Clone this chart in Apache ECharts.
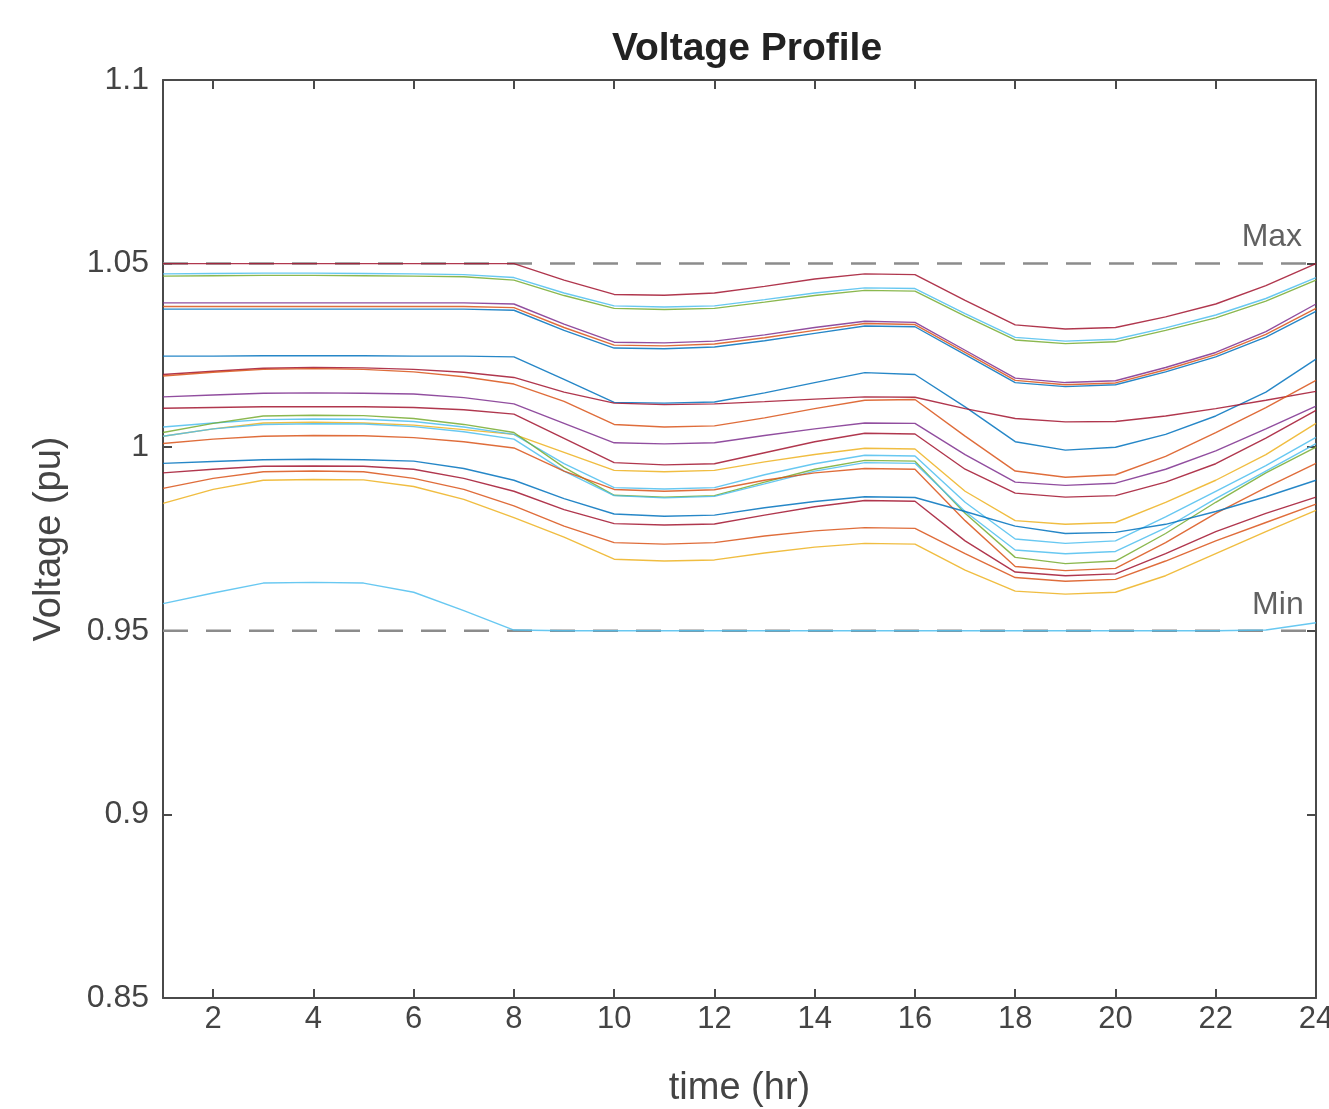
<!DOCTYPE html>
<html><head><meta charset="utf-8">
<script src="https://cdn.jsdelivr.net/npm/echarts@6/dist/echarts.min.js"></script>
<style>html,body{margin:0;padding:0;background:#fff}#c{width:1329px;height:1109px}</style>
</head><body><div id="c"></div>
<script>
// ---- data ----
const hours = [1,2,3,4,5,6,7,8,9,10,11,12,13,14,15,16,17,18,19,20,21,22,23,24];
const xTickValues = [2,4,6,8,10,12,14,16,18,20,22,24];
const limitNames = ['Max','Min'];
const limitValues = [1.05, 0.95];

const bus01 = [1.0500,1.0500,1.0500,1.0500,1.0500,1.0500,1.0500,1.0500,1.0455,1.0416,1.0414,1.0420,1.0438,1.0458,1.0472,1.0470,1.0400,1.0333,1.0322,1.0326,1.0355,1.0390,1.0440,1.0500];
const bus02 = [1.0466,1.0467,1.0468,1.0468,1.0467,1.0466,1.0464,1.0455,1.0413,1.0378,1.0375,1.0378,1.0395,1.0413,1.0427,1.0425,1.0357,1.0292,1.0282,1.0287,1.0318,1.0352,1.0398,1.0455];
const bus03 = [1.0472,1.0473,1.0474,1.0474,1.0473,1.0472,1.0470,1.0462,1.0420,1.0385,1.0382,1.0385,1.0402,1.0420,1.0434,1.0432,1.0364,1.0299,1.0289,1.0294,1.0325,1.0360,1.0405,1.0462];
const bus04 = [1.0393,1.0393,1.0393,1.0393,1.0393,1.0393,1.0393,1.0390,1.0335,1.0286,1.0284,1.0289,1.0306,1.0326,1.0343,1.0340,1.0264,1.0188,1.0176,1.0181,1.0217,1.0258,1.0315,1.0390];
const bus05 = [1.0376,1.0376,1.0376,1.0376,1.0376,1.0376,1.0376,1.0373,1.0318,1.0270,1.0268,1.0273,1.0290,1.0310,1.0330,1.0328,1.0252,1.0176,1.0165,1.0170,1.0205,1.0246,1.0300,1.0370];
const bus06 = [1.0383,1.0383,1.0383,1.0383,1.0383,1.0383,1.0383,1.0380,1.0326,1.0278,1.0276,1.0281,1.0298,1.0318,1.0337,1.0334,1.0258,1.0182,1.0170,1.0175,1.0211,1.0252,1.0307,1.0378];
const bus07 = [1.0248,1.0248,1.0249,1.0249,1.0249,1.0248,1.0248,1.0246,1.0185,1.0122,1.0120,1.0123,1.0148,1.0176,1.0203,1.0198,1.0110,1.0015,0.9992,1.0000,1.0035,1.0085,1.0150,1.0240];
const bus08 = [1.0198,1.0207,1.0215,1.0217,1.0216,1.0212,1.0204,1.0190,1.0150,1.0120,1.0116,1.0118,1.0124,1.0131,1.0137,1.0136,1.0105,1.0078,1.0069,1.0070,1.0085,1.0105,1.0128,1.0152];
const bus09 = [1.0194,1.0204,1.0212,1.0214,1.0212,1.0205,1.0192,1.0172,1.0125,1.0062,1.0055,1.0058,1.0080,1.0105,1.0128,1.0130,1.0030,0.9935,0.9918,0.9925,0.9975,1.0040,1.0108,1.0182];
const bus10 = [1.0137,1.0142,1.0147,1.0148,1.0147,1.0145,1.0135,1.0118,1.0065,1.0012,1.0009,1.0012,1.0032,1.0050,1.0066,1.0065,0.9980,0.9905,0.9896,0.9902,0.9940,0.9990,1.0050,1.0112];
const bus11 = [1.0106,1.0108,1.0110,1.0110,1.0110,1.0108,1.0102,1.0090,1.0024,0.9958,0.9952,0.9955,0.9985,1.0015,1.0038,1.0036,0.9940,0.9875,0.9864,0.9868,0.9905,0.9955,1.0025,1.0100];
const bus12 = [1.0030,1.0050,1.0066,1.0068,1.0066,1.0060,1.0048,1.0035,0.9986,0.9937,0.9933,0.9937,0.9960,0.9980,0.9997,0.9995,0.9880,0.9800,0.9790,0.9795,0.9850,0.9910,0.9980,1.0065];
const bus13 = [1.0055,1.0066,1.0075,1.0077,1.0076,1.0070,1.0055,1.0035,0.9955,0.9890,0.9886,0.9890,0.9925,0.9955,0.9978,0.9976,0.9850,0.9750,0.9738,0.9745,0.9810,0.9880,0.9950,1.0027];
const bus14 = [1.0040,1.0065,1.0085,1.0087,1.0086,1.0078,1.0062,1.0040,0.9945,0.9869,0.9864,0.9868,0.9905,0.9940,0.9964,0.9962,0.9820,0.9700,0.9683,0.9690,0.9765,0.9850,0.9930,1.0000];
const bus15 = [1.0030,1.0050,1.0062,1.0064,1.0063,1.0056,1.0042,1.0022,0.9935,0.9868,0.9862,0.9866,0.9900,0.9935,0.9958,0.9956,0.9825,0.9720,0.9710,0.9716,0.9780,0.9860,0.9935,1.0010];
const bus16 = [1.0010,1.0022,1.0030,1.0032,1.0031,1.0026,1.0015,0.9998,0.9935,0.9885,0.9880,0.9884,0.9910,0.9930,0.9942,0.9940,0.9800,0.9675,0.9664,0.9670,0.9740,0.9820,0.9890,0.9956];
const bus17 = [0.9956,0.9961,0.9966,0.9967,0.9966,0.9962,0.9942,0.9910,0.9860,0.9818,0.9812,0.9815,0.9835,0.9852,0.9865,0.9863,0.9825,0.9785,0.9765,0.9768,0.9790,0.9825,0.9865,0.9910];
const bus18 = [0.9930,0.9940,0.9948,0.9949,0.9948,0.9940,0.9915,0.9880,0.9830,0.9792,0.9788,0.9791,0.9815,0.9838,0.9855,0.9853,0.9745,0.9660,0.9650,0.9655,0.9710,0.9770,0.9820,0.9864];
const bus19 = [0.9888,0.9915,0.9933,0.9935,0.9933,0.9915,0.9885,0.9840,0.9785,0.9740,0.9736,0.9740,0.9758,0.9772,0.9781,0.9779,0.9710,0.9645,0.9635,0.9640,0.9690,0.9745,0.9795,0.9845];
const bus20 = [0.9847,0.9885,0.9910,0.9912,0.9911,0.9893,0.9858,0.9808,0.9755,0.9695,0.9690,0.9693,0.9712,0.9728,0.9738,0.9736,0.9665,0.9608,0.9600,0.9605,0.9650,0.9710,0.9770,0.9828];
const bus21 = [0.9574,0.9603,0.9630,0.9632,0.9630,0.9605,0.9555,0.9502,0.9500,0.9500,0.9500,0.9500,0.9500,0.9500,0.9500,0.9500,0.9500,0.9500,0.9500,0.9500,0.9500,0.9500,0.9502,0.9522];

const busSeries = [bus01,bus02,bus03,bus04,bus05,bus06,bus07,bus08,bus09,bus10,bus11,bus12,bus13,bus14,bus15,bus16,bus17,bus18,bus19,bus20,bus21];
const busColors = ['#A2142F','#77AC30','#4DBEEE','#7E2F8E','#0072BD','#D95319','#0072BD','#A2142F','#D95319','#7E2F8E','#A2142F','#EDB120','#4DBEEE','#77AC30','#4DBEEE','#D95319','#0072BD','#A2142F','#D95319','#EDB120','#4DBEEE'];

// ---- chart ----
const FONT = '"Liberation Sans", Arial, Helvetica, sans-serif';
const AX = '#4a4a4a';

const series = [];
limitValues.forEach((v, i) => {
  series.push({
    type: 'line', name: limitNames[i], data: [[hours[0], v], [hours[hours.length-1], v]],
    showSymbol: false, silent: true, z: 1,
    lineStyle: {color: '#8c8c8c', width: 2.5, type: [25, 18]}
  });
});
busSeries.forEach((vals, i) => {
  series.push({
    type: 'line', name: 'Bus ' + (i+1), data: hours.map((h, k) => [h, vals[k]]),
    showSymbol: false, z: 3,
    lineStyle: {color: busColors[i], width: 1.4, opacity: 0.85}
  });
});
series.push({
  type: 'scatter', silent: true, symbolSize: 0, z: 5,
  data: [[23.12, limitValues[0], limitNames[0]], [23.24, limitValues[1], limitNames[1]]],
  label: {show: true, position: 'top', distance: 10, formatter: p => p.value[2],
          fontFamily: FONT, fontSize: 32, color: '#3a3a3a'}
});

const chart = echarts.init(document.getElementById('c'), null, {renderer: 'canvas'});
chart.setOption({
  animation: false,
  backgroundColor: '#fff',
  title: {text: 'Voltage Profile', left: 742, textAlign: 'center', top: 25,
          textStyle: {fontFamily: FONT, fontWeight: 'bold', fontSize: 39, color: '#222'}},
  grid: {left: 163, right: 13, top: 80, bottom: 111, containLabel: false, outerBoundsMode: 'none'},
  xAxis: [{
    type: 'value', min: 1, max: 24, position: 'bottom',
    name: 'time (hr)', nameLocation: 'middle', nameGap: 72,
    nameTextStyle: {fontFamily: FONT, fontSize: 38, color: '#444'},
    axisLine: {show: true, lineStyle: {color: AX, width: 2}},
    axisTick: {show: true, inside: true, length: 9, customValues: xTickValues, lineStyle: {color: AX, width: 2}},
    axisLabel: {show: true, customValues: xTickValues, margin: 6, fontFamily: FONT, fontSize: 31, color: '#444'},
    splitLine: {show: false}
  }, {
    type: 'value', min: 1, max: 24, position: 'top',
    axisLine: {show: true, onZero: false, lineStyle: {color: AX, width: 2}},
    axisTick: {show: true, inside: true, length: 9, customValues: xTickValues, lineStyle: {color: AX, width: 2}},
    axisLabel: {show: false}, splitLine: {show: false}
  }],
  yAxis: [{
    type: 'value', min: 0.85, max: 1.1, interval: 0.05, position: 'left',
    name: 'Voltage (pu)', nameLocation: 'middle', nameGap: 94, nameRotate: 90,
    nameTextStyle: {fontFamily: FONT, fontSize: 38, color: '#444'},
    axisLine: {show: true, lineStyle: {color: AX, width: 2}},
    axisTick: {show: true, inside: true, length: 9, lineStyle: {color: AX, width: 2}},
    axisLabel: {show: true, margin: 14, fontFamily: FONT, fontSize: 32, color: '#444'},
    splitLine: {show: false}
  }, {
    type: 'value', min: 0.85, max: 1.1, interval: 0.05, position: 'right',
    axisLine: {show: true, onZero: false, lineStyle: {color: AX, width: 2}},
    axisTick: {show: true, inside: true, length: 9, lineStyle: {color: AX, width: 2}},
    axisLabel: {show: false}, splitLine: {show: false}
  }],
  series: series
});
</script></body></html>
